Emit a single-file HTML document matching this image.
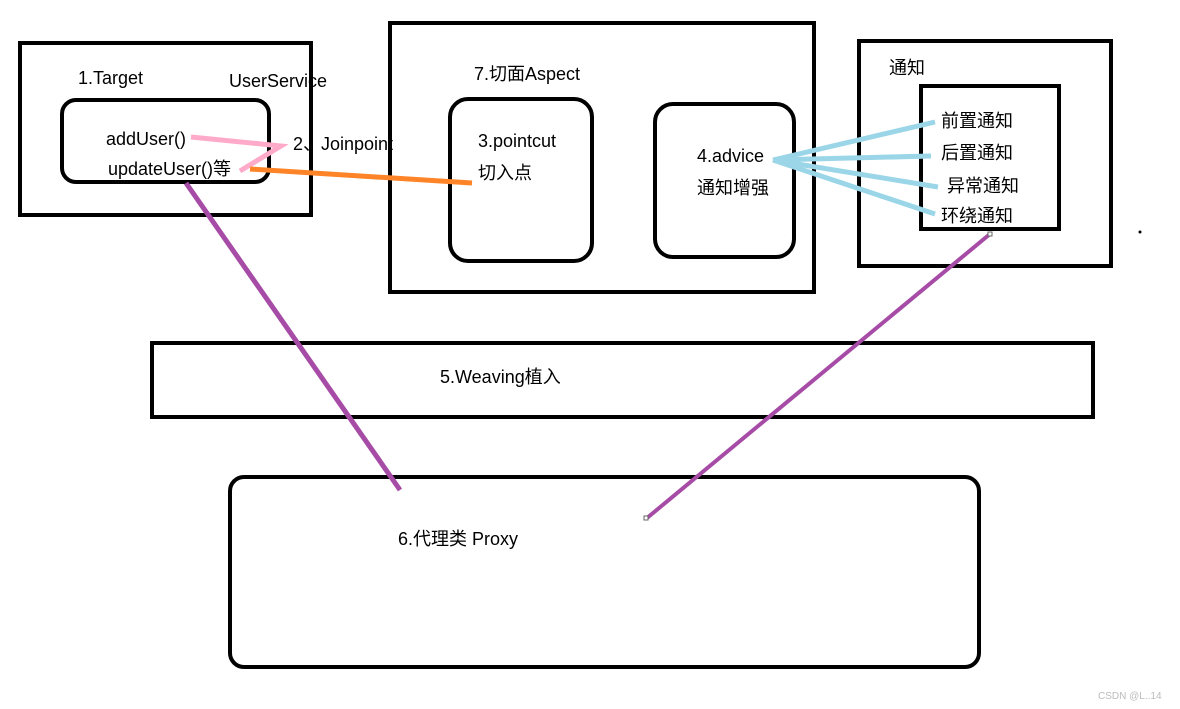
<!DOCTYPE html>
<html><head><meta charset="utf-8"><style>
html,body{margin:0;padding:0;background:#fff;}
svg{display:block;}
text{font-family:"Liberation Sans","Noto Sans CJK SC",sans-serif;font-size:18px;fill:#000;}
</style></head><body>
<svg width="1180" height="709" viewBox="0 0 1180 709" xmlns="http://www.w3.org/2000/svg">
<g fill="none" stroke="#000" stroke-width="4">
<rect x="20" y="43" width="291" height="172"/>
<rect x="62" y="100" width="207" height="82" rx="14"/>
<rect x="390" y="23" width="424" height="269"/>
<rect x="450" y="99" width="142" height="162" rx="18"/>
<rect x="655" y="104" width="139" height="153" rx="18"/>
<rect x="859" y="41" width="252" height="225"/>
<rect x="921" y="86" width="138" height="143"/>
<rect x="152" y="343" width="941" height="74"/>
<rect x="230" y="477" width="749" height="190" rx="14"/>
</g>
<g stroke-width="5" fill="none">
<polyline points="191,137 281,146 240,171" stroke="#ffaac8"/>
<line x1="250" y1="169" x2="472" y2="183" stroke="#ff8427"/>
<g stroke="#9ad6e8">
<line x1="773" y1="160" x2="935" y2="122"/>
<line x1="773" y1="160" x2="931" y2="156"/>
<line x1="773" y1="160" x2="938" y2="187"/>
<line x1="773" y1="160" x2="935" y2="214"/>
</g>
<line x1="186" y1="183" x2="400" y2="490" stroke="#a64ca6"/>
<line x1="990" y1="234" x2="647" y2="518" stroke="#a64ca6" stroke-width="4"/>
</g>
<rect x="988" y="232" width="4" height="4" fill="#fff" stroke="#666" stroke-width="1"/>
<rect x="644" y="516" width="4" height="4" fill="#fff" stroke="#666" stroke-width="1"/>
<circle cx="1140" cy="232" r="1.5" fill="#000"/>
<text x="78" y="84">1.Target</text>
<text x="229" y="87">UserService</text>
<text x="106" y="145">addUser()</text>
<text x="108" y="175">updateUser()等</text>
<text x="293" y="150">2、Joinpoint</text>
<text x="474" y="80">7.切面Aspect</text>
<text x="478" y="147">3.pointcut</text>
<text x="478" y="179">切入点</text>
<text x="697" y="162">4.advice</text>
<text x="697" y="194">通知增强</text>
<text x="889" y="74">通知</text>
<text x="941" y="127">前置通知</text>
<text x="941" y="159">后置通知</text>
<text x="947" y="192">异常通知</text>
<text x="941" y="222">环绕通知</text>
<text x="440" y="383">5.Weaving植入</text>
<text x="398" y="545">6.代理类  Proxy</text>
<text x="1098" y="699" style="font-size:10px;fill:#bbb">CSDN @L..14</text>
</svg>
</body></html>
